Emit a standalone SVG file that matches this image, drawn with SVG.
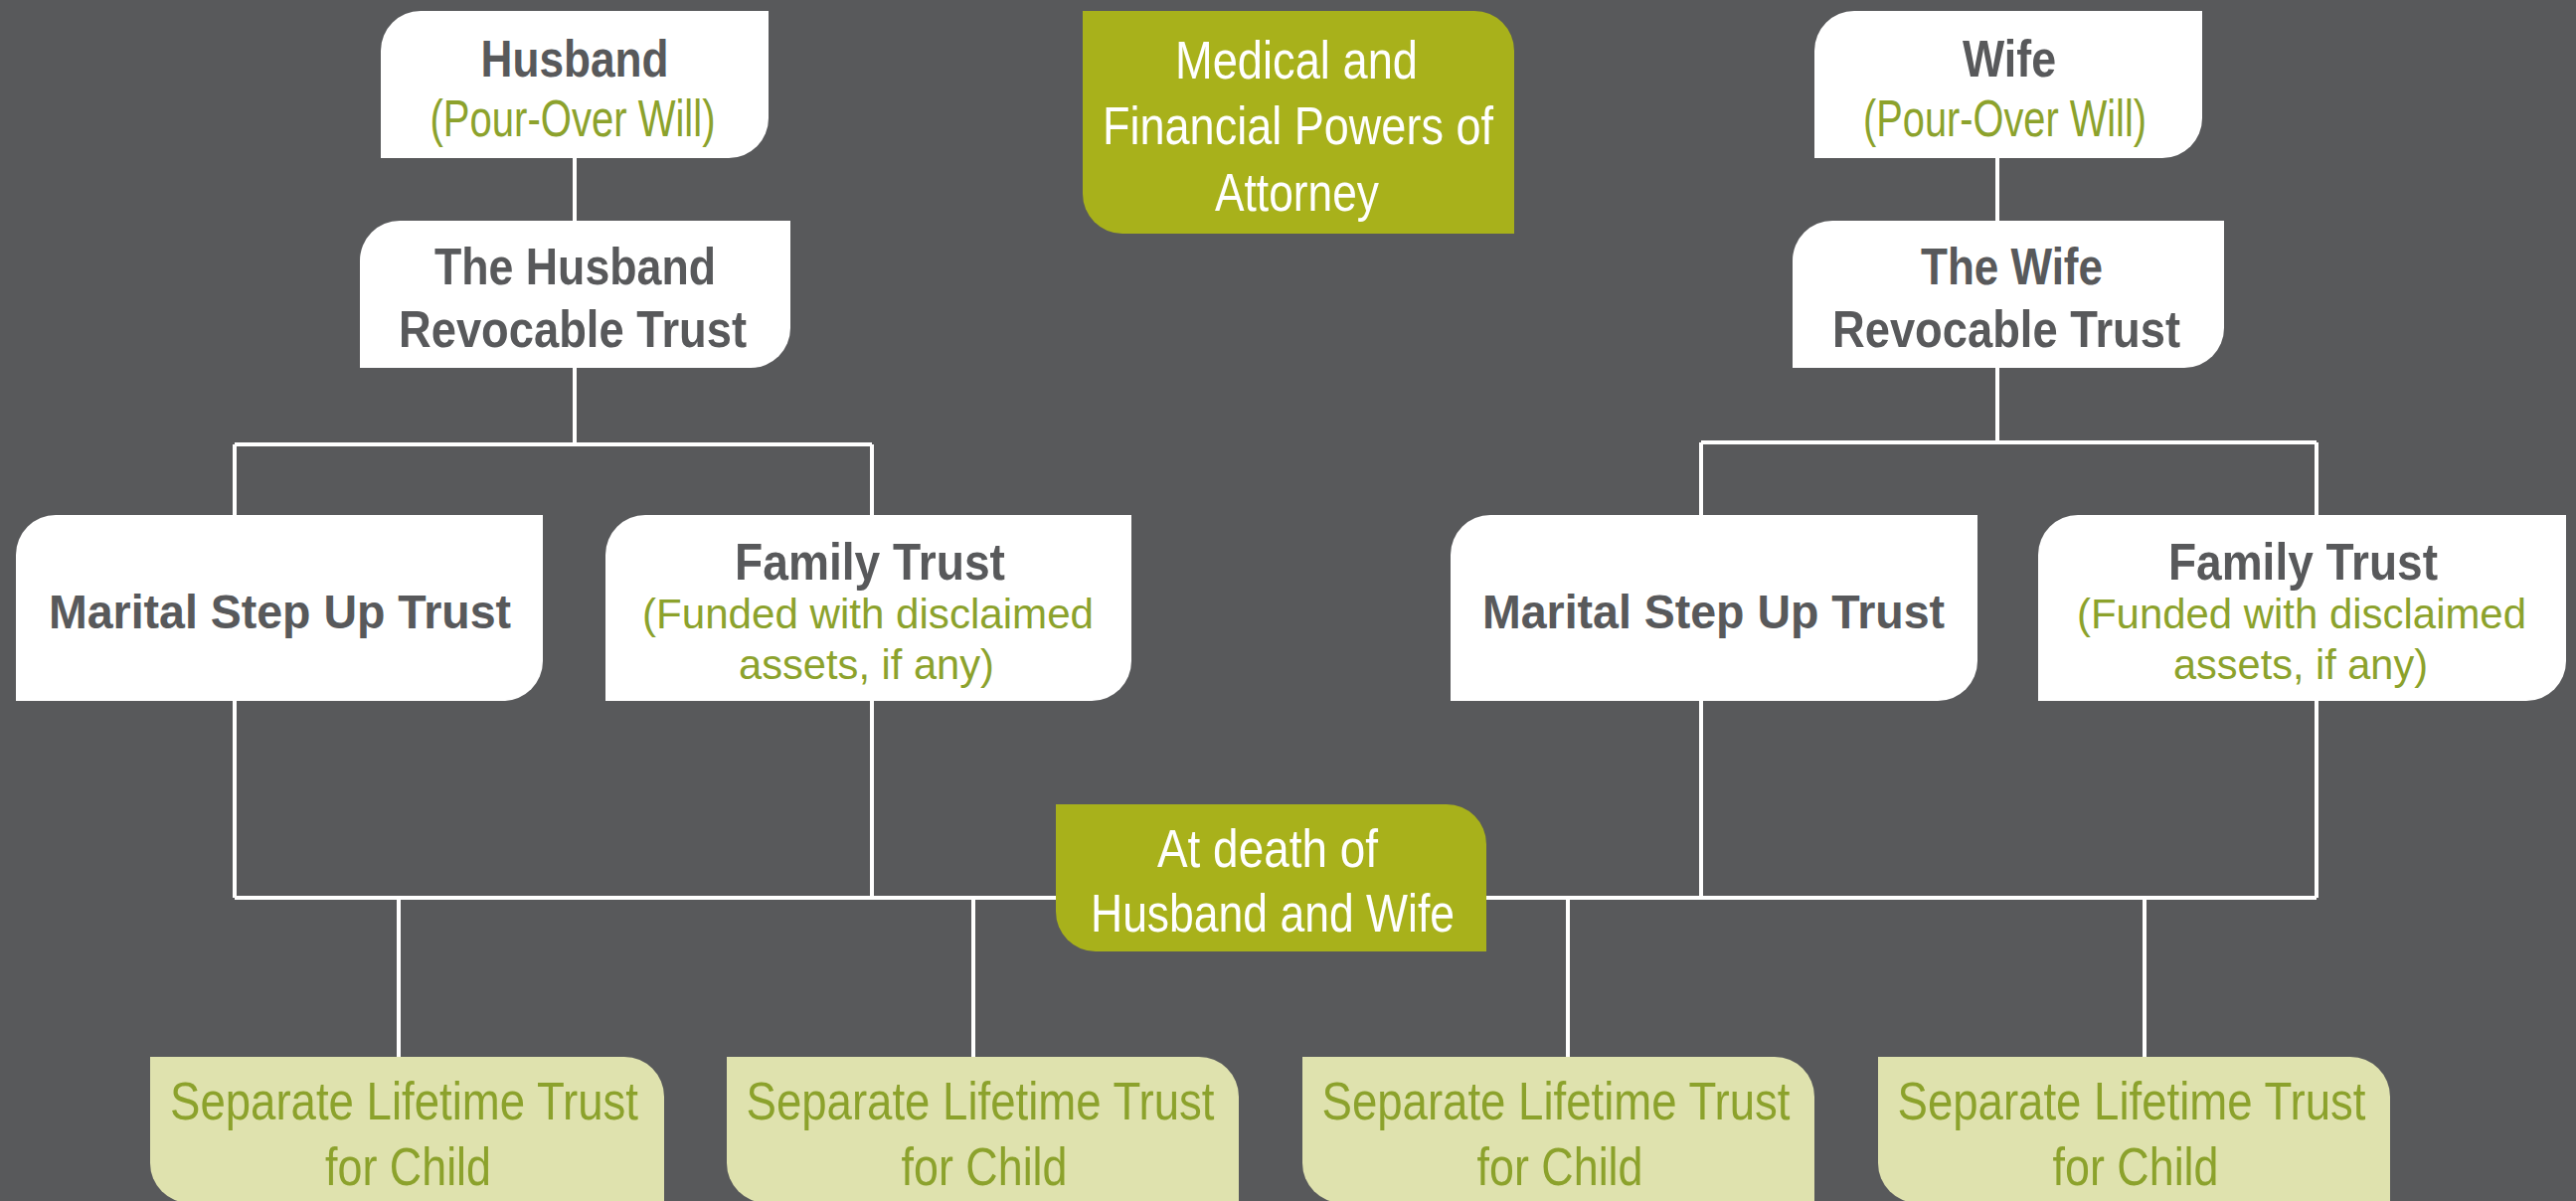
<svg xmlns="http://www.w3.org/2000/svg" width="2591" height="1208" viewBox="0 0 2591 1208">
<style>
.bg{fill:#58595b}
.white{fill:#ffffff}
.olive{fill:#a8b11b}
.light{fill:#dfe2ae}
.conn{stroke:#ffffff;stroke-width:4;fill:none}
text{font-family:"Liberation Sans",Arial,sans-serif;text-anchor:middle}
.b{font-weight:bold;fill:#58595b}
.g{fill:#8ca22c}
.w{fill:#ffffff}
</style>
<rect class="bg" x="0" y="0" width="2591" height="1208"/>
<g id="connectors">
<path class="conn" d="M578,159V222M578,370V447M236,447H877M236,447V903M877,447V903"/>
<path class="conn" d="M2009,159V222M2009,370V445M1711,445H2330M1711,445V903M2330,445V903"/>
<path class="conn" d="M236,903H2330M401,903V1063M979,903V1063M1577,903V1063M2157,903V1063"/>
</g>
<g id="husband">
<path class="white" d="M383,51A40,40 0 0 1 423,11H773V119A40,40 0 0 1 733,159H383Z"/>
<text class="b" x="578" y="77" font-size="52" textLength="189" lengthAdjust="spacingAndGlyphs">Husband</text>
<text class="g" x="576" y="137" font-size="52" textLength="287" lengthAdjust="spacingAndGlyphs">(Pour-Over Will)</text>
</g>
<g id="husband-trust">
<path class="white" d="M362,262A40,40 0 0 1 402,222H795V330A40,40 0 0 1 755,370H362Z"/>
<text class="b" x="578.5" y="286" font-size="52" textLength="283" lengthAdjust="spacingAndGlyphs">The Husband</text>
<text class="b" x="576" y="349" font-size="52" textLength="350" lengthAdjust="spacingAndGlyphs">Revocable Trust</text>
</g>
<g id="powers">
<path class="olive" d="M1089,11H1483A40,40 0 0 1 1523,51V235H1129A40,40 0 0 1 1089,195Z"/>
<text class="w" x="1304" y="79" font-size="54" textLength="244" lengthAdjust="spacingAndGlyphs">Medical and</text>
<text class="w" x="1305.5" y="145" font-size="54" textLength="393" lengthAdjust="spacingAndGlyphs">Financial Powers of</text>
<text class="w" x="1304.5" y="212" font-size="54" textLength="165" lengthAdjust="spacingAndGlyphs">Attorney</text>
</g>
<g id="wife">
<path class="white" d="M1825,51A40,40 0 0 1 1865,11H2215V119A40,40 0 0 1 2175,159H1825Z"/>
<text class="b" x="2021" y="77" font-size="52" textLength="94" lengthAdjust="spacingAndGlyphs">Wife</text>
<text class="g" x="2016.5" y="137" font-size="52" textLength="285" lengthAdjust="spacingAndGlyphs">(Pour-Over Will)</text>
</g>
<g id="wife-trust">
<path class="white" d="M1803,262A40,40 0 0 1 1843,222H2237V330A40,40 0 0 1 2197,370H1803Z"/>
<text class="b" x="2023.5" y="286" font-size="52" textLength="183" lengthAdjust="spacingAndGlyphs">The Wife</text>
<text class="b" x="2018" y="349" font-size="52" textLength="350" lengthAdjust="spacingAndGlyphs">Revocable Trust</text>
</g>
<g id="husband-marital">
<path class="white" d="M16,558A40,40 0 0 1 56,518H546V665A40,40 0 0 1 506,705H16Z"/>
<text class="b" x="281.5" y="632" font-size="49" textLength="465" lengthAdjust="spacingAndGlyphs">Marital Step Up Trust</text>
</g>
<g id="husband-family">
<path class="white" d="M609,558A40,40 0 0 1 649,518H1138V665A40,40 0 0 1 1098,705H609Z"/>
<text class="b" x="875" y="583" font-size="52" textLength="272" lengthAdjust="spacingAndGlyphs">Family Trust</text>
<text class="g" x="873" y="632" font-size="42" textLength="454" lengthAdjust="spacingAndGlyphs">(Funded with disclaimed</text>
<text class="g" x="871.5" y="683" font-size="42" textLength="257" lengthAdjust="spacingAndGlyphs">assets, if any)</text>
</g>
<g id="wife-marital">
<path class="white" d="M1459,558A40,40 0 0 1 1499,518H1989V665A40,40 0 0 1 1949,705H1459Z"/>
<text class="b" x="1723.5" y="632" font-size="49" textLength="465" lengthAdjust="spacingAndGlyphs">Marital Step Up Trust</text>
</g>
<g id="wife-family">
<path class="white" d="M2050,558A40,40 0 0 1 2090,518H2581V665A40,40 0 0 1 2541,705H2050Z"/>
<text class="b" x="2316.5" y="583" font-size="52" textLength="271" lengthAdjust="spacingAndGlyphs">Family Trust</text>
<text class="g" x="2315" y="632" font-size="42" textLength="452" lengthAdjust="spacingAndGlyphs">(Funded with disclaimed</text>
<text class="g" x="2314" y="683" font-size="42" textLength="256" lengthAdjust="spacingAndGlyphs">assets, if any)</text>
</g>
<g id="at-death">
<path class="olive" d="M1062,809H1455A40,40 0 0 1 1495,849V957H1102A40,40 0 0 1 1062,917Z"/>
<text class="w" x="1275" y="872" font-size="54" textLength="222" lengthAdjust="spacingAndGlyphs">At death of</text>
<text class="w" x="1280" y="937" font-size="54" textLength="366" lengthAdjust="spacingAndGlyphs">Husband and Wife</text>
</g>
<g id="child-1">
<path class="light" d="M151,1063H628A40,40 0 0 1 668,1103V1210H191A40,40 0 0 1 151,1170Z"/>
<text class="g" x="406.5" y="1126" font-size="54" textLength="471" lengthAdjust="spacingAndGlyphs">Separate Lifetime Trust</text>
<text class="g" x="410.5" y="1192" font-size="54" textLength="167" lengthAdjust="spacingAndGlyphs">for Child</text>
</g>
<g id="child-2">
<path class="light" d="M731,1063H1206A40,40 0 0 1 1246,1103V1210H771A40,40 0 0 1 731,1170Z"/>
<text class="g" x="986" y="1126" font-size="54" textLength="471" lengthAdjust="spacingAndGlyphs">Separate Lifetime Trust</text>
<text class="g" x="990" y="1192" font-size="54" textLength="167" lengthAdjust="spacingAndGlyphs">for Child</text>
</g>
<g id="child-3">
<path class="light" d="M1310,1063H1785A40,40 0 0 1 1825,1103V1210H1350A40,40 0 0 1 1310,1170Z"/>
<text class="g" x="1565" y="1126" font-size="54" textLength="471" lengthAdjust="spacingAndGlyphs">Separate Lifetime Trust</text>
<text class="g" x="1569" y="1192" font-size="54" textLength="167" lengthAdjust="spacingAndGlyphs">for Child</text>
</g>
<g id="child-4">
<path class="light" d="M1889,1063H2364A40,40 0 0 1 2404,1103V1210H1929A40,40 0 0 1 1889,1170Z"/>
<text class="g" x="2144" y="1126" font-size="54" textLength="471" lengthAdjust="spacingAndGlyphs">Separate Lifetime Trust</text>
<text class="g" x="2148" y="1192" font-size="54" textLength="167" lengthAdjust="spacingAndGlyphs">for Child</text>
</g>
</svg>
